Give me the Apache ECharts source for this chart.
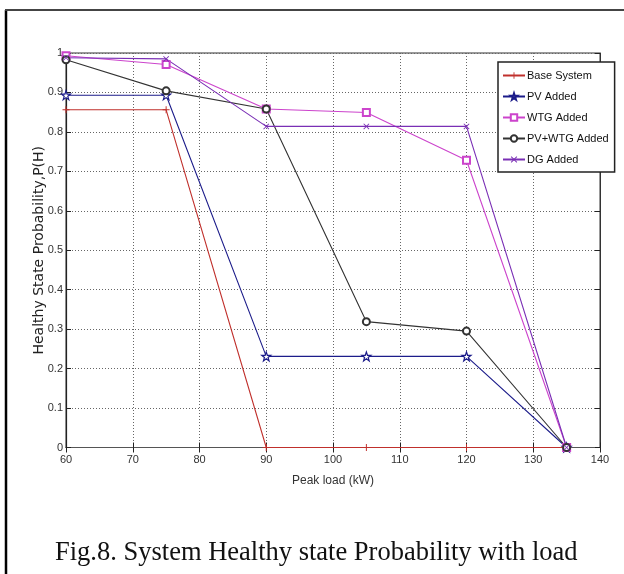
<!DOCTYPE html>
<html>
<head>
<meta charset="utf-8">
<script src="https://cdn.jsdelivr.net/npm/echarts@6/dist/echarts.min.js"></script>
<style>
html,body{margin:0;padding:0;background:#fff;}
#chart{width:624px;height:574px;}
</style>
</head>
<body>
<div id="chart"></div>
<script>
// ---- data ----
const peakLoad = [60, 75, 90, 105, 120, 135];
const baseSystem = [0.856, 0.856, 0, 0, 0, 0];
const pvAdded = [0.893, 0.893, 0.231, 0.231, 0.231, 0];
const wtgAdded = [0.993, 0.971, 0.858, 0.849, 0.728, 0];
const pvWtgAdded = [0.983, 0.904, 0.858, 0.319, 0.295, 0];
const dgAdded = [0.988, 0.985, 0.814, 0.814, 0.814, 0];
const seriesNames = ['Base System', 'PV Added', 'WTG Added', 'PV+WTG Added', 'DG Added'];
const yTicks = ['0','0.1','0.2','0.3','0.4','0.5','0.6','0.7','0.8','0.9','1'];
const xTicks = ['60','70','80','90','100','110','120','130','140'];
const caption = 'Fig.8. System Healthy state Probability with load';

const narrow = "'Liberation Sans Narrow','Liberation Sans',Arial,sans-serif";
const pair = (arr) => arr.map((v, i) => [peakLoad[i], v]);

const plusPath = 'path://M4.3,0H5.7V4.3H10V5.7H5.7V10H4.3V5.7H0V4.3H4.3Z';
const starPath = 'path://M5,0L6.2,3.6L10,3.6L7,5.9L8.1,9.5L5,7.3L1.9,9.5L3,5.9L0,3.6L3.8,3.6Z';
const xPath = 'path://M1,0L5,4L9,0L10,1L6,5L10,9L9,10L5,6L1,10L0,9L4,5L0,1Z';

const chart = echarts.init(document.getElementById('chart'));
const mkSeries = (name, data, color, symbol, size, itemStyle) => ({
  name: name,
  type: 'line',
  data: pair(data),
  symbol: symbol,
  symbolSize: size,
  showSymbol: true,
  lineStyle: { color: color, width: 1.1 },
  itemStyle: itemStyle || { color: color },
  emphasis: { disabled: true },
  animation: false
});

chart.setOption({
  animation: false,
  grid: { left: 66, top: 53, right: 24, bottom: 126.5, show: true, borderColor: '#333', borderWidth: 1 },
  legend: {
    left: 498, top: 62, orient: 'vertical',
    padding: [7, 6, 6, 4],
    borderColor: '#222', borderWidth: 1.5,
    backgroundColor: '#fff',
    itemWidth: 22, itemHeight: 8, itemGap: 8,
    textStyle: { fontFamily: narrow, fontSize: 11, color: '#111', padding: [0, 0, 0, -3], lineHeight: 13 },
    data: seriesNames
  },
  xAxis: [{
    type: 'value', min: 60, max: 140, interval: 10,
    name: 'Peak load (kW)', nameLocation: 'middle', nameGap: 27,
    nameTextStyle: { fontFamily: narrow, fontSize: 12, color: '#333' },
    axisLine: { lineStyle: { color: '#222', width: 1.2 } },
    axisTick: { inside: true, length: 5, lineStyle: { color: '#222' } },
    axisLabel: { fontFamily: narrow, fontSize: 11, color: '#333', margin: 7,
      formatter: (v) => xTicks[Math.round((v - 60) / 10)] },
    splitLine: { show: true, lineStyle: { color: '#666', type: [1, 2], width: 1 } }
  }, {
    type: 'value', min: 60, max: 140, interval: 10, position: 'top',
    axisLine: { show: true, lineStyle: { color: '#555' } },
    axisTick: { show: true, inside: true, length: 5, lineStyle: { color: '#222' } },
    axisLabel: { show: false }, splitLine: { show: false }
  }],
  yAxis: [{
    type: 'value', min: 0, max: 1, interval: 0.1,
    name: 'Healthy State Probability,P(H)', nameLocation: 'middle', nameGap: 20,
    nameMoveOverlap: false,
    nameTextStyle: { fontFamily: "'DejaVu Sans',sans-serif", fontSize: 14, color: '#222' },
    axisLine: { show: true, lineStyle: { color: '#222', width: 1.2 } },
    axisTick: { show: true, inside: true, length: 5, lineStyle: { color: '#222' } },
    axisLabel: { fontFamily: narrow, fontSize: 11, color: '#333', margin: 3,
      formatter: (v) => yTicks[Math.round(v * 10)] },
    splitLine: { show: true, lineStyle: { color: '#666', type: [1, 2], width: 1 } }
  }, {
    type: 'value', min: 0, max: 1, interval: 0.1, position: 'right',
    axisLine: { show: true, lineStyle: { color: '#333' } },
    axisTick: { show: true, inside: true, length: 5, lineStyle: { color: '#222' } },
    axisLabel: { show: false }, splitLine: { show: false }
  }],
  series: [
    mkSeries(seriesNames[0], baseSystem, '#c0302c', plusPath, 7),
    mkSeries(seriesNames[1], pvAdded, '#1c1c8a', starPath, 9, { color: '#fff', borderColor: '#1c1c8a', borderWidth: 1.2 }),
    mkSeries(seriesNames[2], wtgAdded, '#cc44cc', 'emptyRect', 7, { color: '#cc44cc', borderWidth: 1.2 }),
    mkSeries(seriesNames[3], pvWtgAdded, '#333333', 'emptyCircle', 7, { color: '#333333', borderWidth: 1.2 }),
    mkSeries(seriesNames[4], dgAdded, '#7a2fb5', xPath, 6)
  ],
  graphic: [
    { type: 'line', shape: { x1: 6, y1: 10, x2: 6, y2: 574 }, style: { stroke: '#000', lineWidth: 2.5 } },
    { type: 'line', shape: { x1: 5, y1: 10, x2: 624, y2: 10 }, style: { stroke: '#444', lineWidth: 2 } },
    { type: 'text', left: 55, top: 540,
      style: { text: caption, font: "26.5px 'Liberation Serif','Times New Roman',serif", fill: '#111' } }
  ]
});
</script>
</body>
</html>
